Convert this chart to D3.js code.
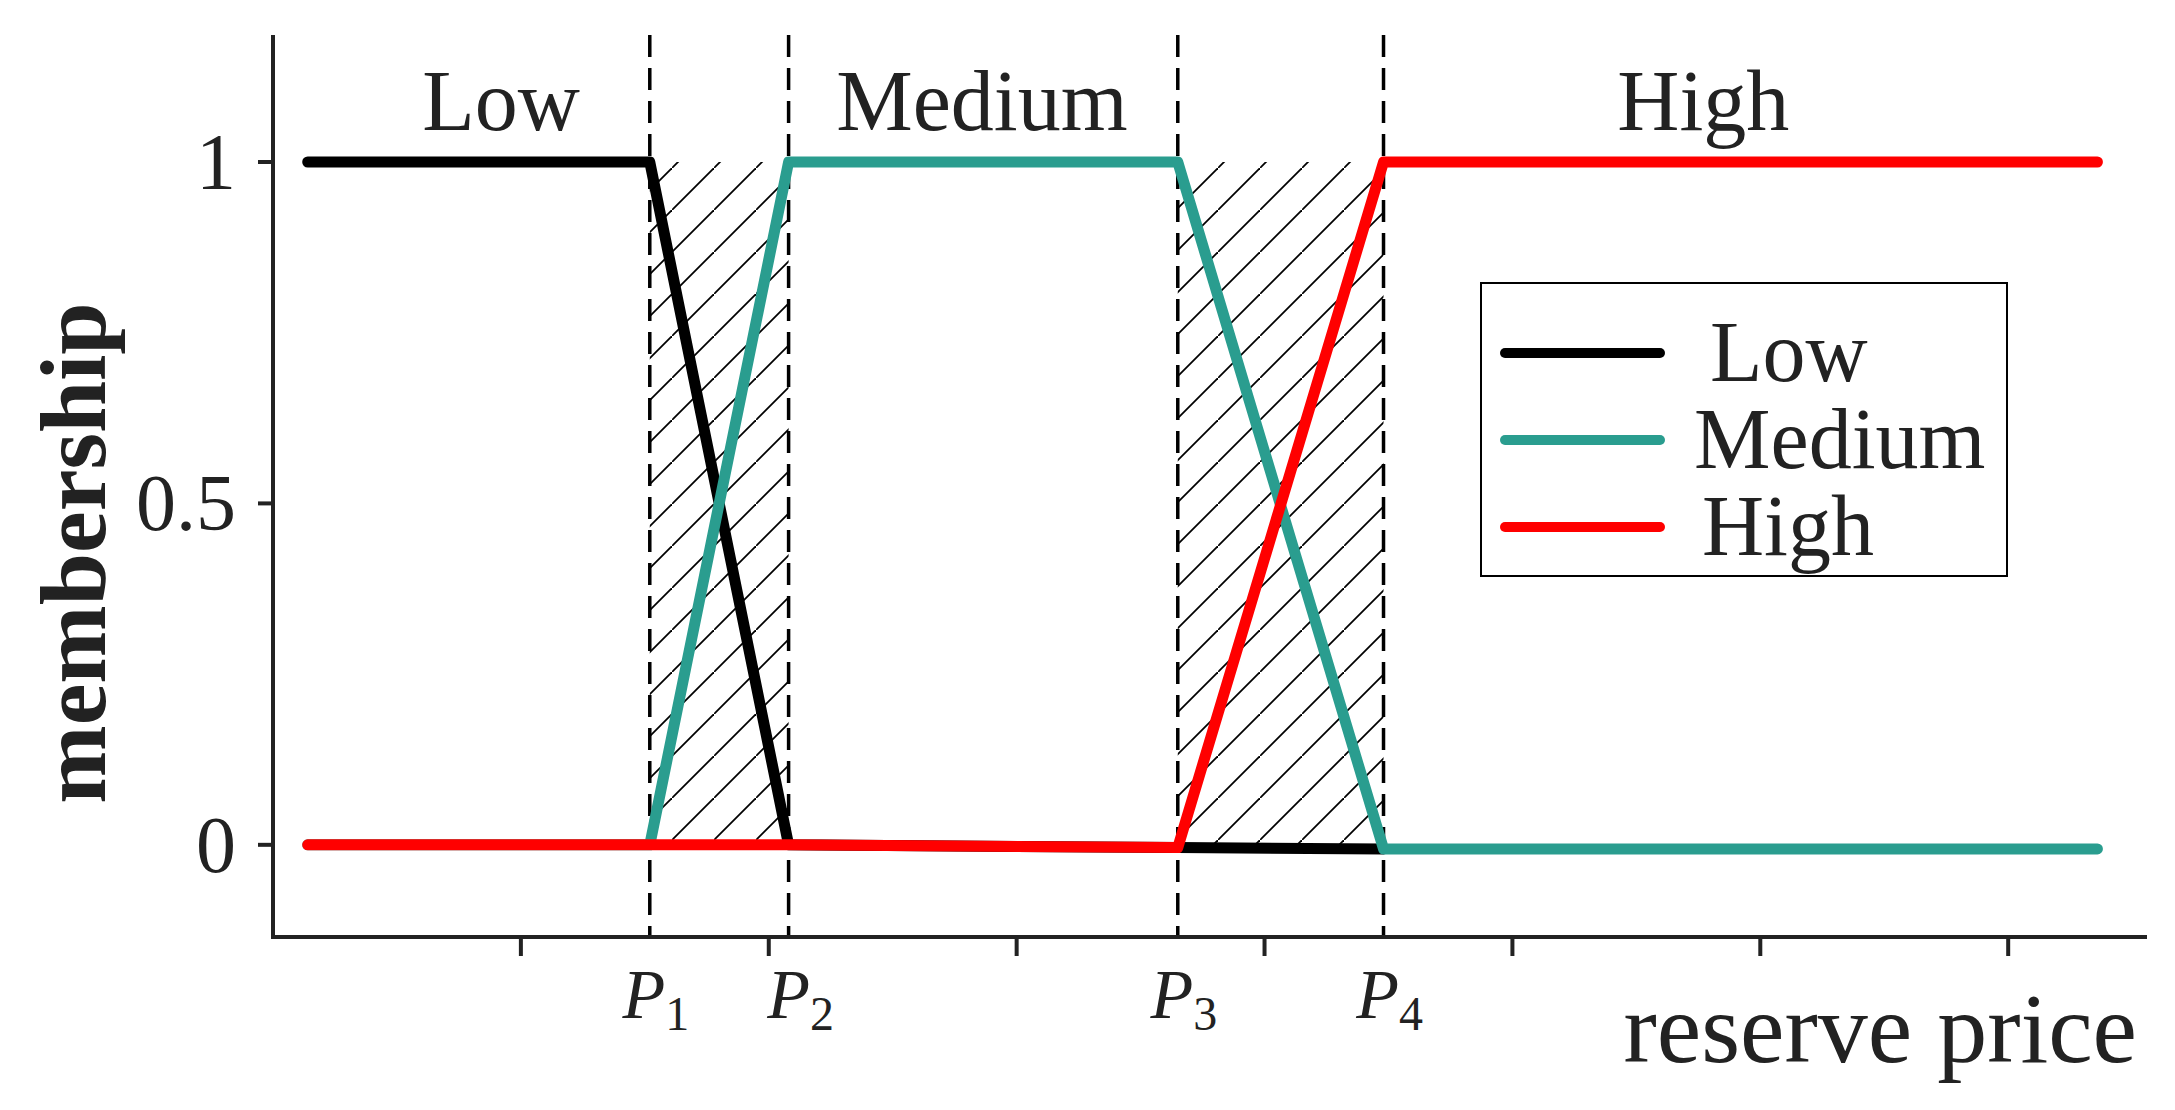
<!DOCTYPE html>
<html><head><meta charset="utf-8">
<script src="https://cdn.jsdelivr.net/npm/d3@7"></script>
<style>body{margin:0;background:#fff}</style>
</head><body>
<div id="container"></div>
<script>
// breakpoints on the price axis
var P = [1.52, 2.08, 3.65, 4.48];
var xStart = 0.14, xEnd = 7.36;
var xTicks = [1,2,3,4,5,6,7];
var yTicks = [0, 0.5, 1];
var pLabels = ["1","2","3","4"];
var seriesNames = ["Low","Medium","High"];
var seriesColors = ["#000000","#2a9d8f","#ff0000"];
var lowVals = [[xStart,1],[P[0],1],[P[1],0],[P[2],-0.004],[P[3],-0.006]];
var medVals = [[xStart,0],[P[0],0],[P[1],1],[P[2],1],[P[3],-0.006],[xEnd,-0.006]];
var highVals = [[xStart,0],[P[0],0],[P[1],0],[P[2],-0.004],[P[3],1],[xEnd,1]];
var regionLabels = [{t:"Low",x:0.92},{t:"Medium",x:2.86},{t:"High",x:5.77}];

var W=2175,H=1110;
var svg=d3.select("#container").append("svg").attr("width",W).attr("height",H);
var x=d3.scaleLinear().domain([0,7.56]).range([273,2147]);
var y=d3.scaleLinear().domain([-0.135,1.186]).range([937,35]);
var font="'Liberation Serif', serif";

// hatch pattern
var defs=svg.append("defs");
var pat=defs.append("pattern").attr("id","hatch").attr("patternUnits","userSpaceOnUse")
	.attr("width",42).attr("height",42);
pat.append("line").attr("x1",-2).attr("y1",44).attr("x2",44).attr("y2",-2)
	.attr("stroke","#000").attr("stroke-width",1.8);
[[P[0],P[1]],[P[2],P[3]]].forEach(function(r){
	svg.append("rect").attr("x",x(r[0])).attr("y",y(1)).attr("width",x(r[1])-x(r[0]))
		.attr("height",y(0)-y(1)).attr("fill","url(#hatch)");
});

// dashed verticals
svg.selectAll(".pline").data(P).enter().append("line")
	.attr("x1",function(d){return x(d)}).attr("x2",function(d){return x(d)})
	.attr("y1",35).attr("y2",937).attr("stroke","#000").attr("stroke-width",3.5)
	.attr("stroke-dasharray","22,11");

// axes
svg.append("line").attr("x1",273).attr("x2",273).attr("y1",35).attr("y2",939).attr("stroke","#222").attr("stroke-width",4);
svg.append("line").attr("x1",271).attr("x2",2147).attr("y1",937).attr("y2",937).attr("stroke","#222").attr("stroke-width",4);
svg.selectAll(".xt").data(xTicks).enter().append("line")
	.attr("x1",function(d){return x(d)}).attr("x2",function(d){return x(d)})
	.attr("y1",937).attr("y2",956).attr("stroke","#222").attr("stroke-width",4);
svg.selectAll(".yt").data(yTicks).enter().append("line")
	.attr("x1",258).attr("x2",273).attr("y1",function(d){return y(d)}).attr("y2",function(d){return y(d)})
	.attr("stroke","#222").attr("stroke-width",4);
svg.selectAll(".yl").data(yTicks).enter().append("text")
	.attr("x",236).attr("y",function(d){return y(d)+27}).attr("text-anchor","end")
	.attr("font-family",font).attr("font-size",80).attr("fill","#222").text(function(d){return d});

// P labels
var pl=svg.selectAll(".pl").data(P).enter().append("text")
	.attr("x",function(d,i){return x(d)+(i==1?12:6)}).attr("y",1018)
	.attr("text-anchor","middle").attr("font-family",font).attr("font-size",70).attr("fill","#222");
pl.append("tspan").attr("font-style","italic").text("P");
pl.append("tspan").attr("font-size",48).attr("dy",12).text(function(d,i){return pLabels[i]});

// axis titles
svg.append("text").attr("x",2137).attr("y",1062).attr("text-anchor","end")
	.attr("font-family",font).attr("font-size",100).attr("fill","#222").text("reserve price");
svg.append("text").attr("transform","translate(105,553) rotate(-90)").attr("text-anchor","middle")
	.attr("font-family",font).attr("font-weight","bold").attr("font-size",94).attr("fill","#222").text("membership");

// region labels
svg.selectAll(".rl").data(regionLabels).enter().append("text")
	.attr("x",function(d){return x(d.x)}).attr("y",130).attr("text-anchor","middle")
	.attr("font-family",font).attr("font-size",86).attr("fill","#222").text(function(d){return d.t});

// series lines
var line=d3.line().x(function(d){return x(d[0])}).y(function(d){return y(d[1])});
[lowVals,medVals,highVals].forEach(function(v,i){
	svg.append("path").datum(v).attr("d",line).attr("fill","none")
		.attr("stroke",seriesColors[i]).attr("stroke-width",11).attr("stroke-linecap","round").attr("stroke-linejoin","round");
});

// legend
svg.append("rect").attr("x",1481).attr("y",283).attr("width",526).attr("height",293)
	.attr("fill","#fff").attr("stroke","#000").attr("stroke-width",2);
seriesNames.forEach(function(n,i){
	var yy=353+i*87;
	svg.append("line").attr("x1",1505).attr("x2",1660).attr("y1",yy).attr("y2",yy)
		.attr("stroke",seriesColors[i]).attr("stroke-width",10).attr("stroke-linecap","round");
	svg.append("text").attr("x",i==1?1694:(i==0?1710:1702)).attr("y",yy+28).attr("font-family",font)
		.attr("font-size",86).attr("fill","#222").text(n);
});
</script>
</body></html>
